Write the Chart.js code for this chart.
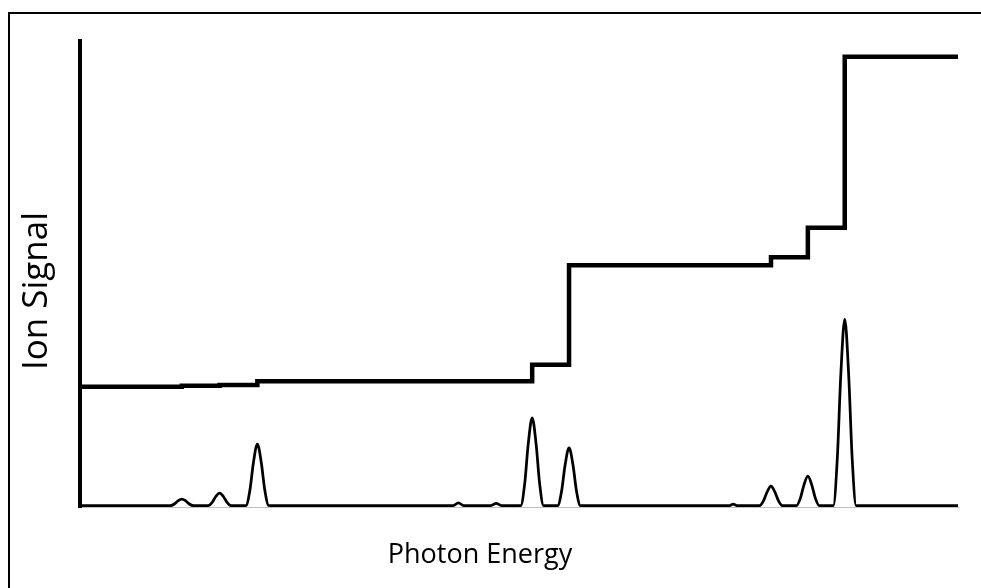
<!DOCTYPE html>
<html>
<head>
<meta charset="utf-8">
<script src="https://cdn.jsdelivr.net/npm/chart.js@4.4.1/dist/chart.umd.min.js"></script>
<style>
  html, body { margin: 0; padding: 0; background: #fff; }
  #wrap { position: relative; width: 981px; height: 588px; overflow: hidden; }
  #frame { position: absolute; left: 8px; top: 12px; width: 1200px; height: 800px;
           border-top: 2px solid #000; border-left: 2px solid #000; pointer-events: none; }
  canvas { position: absolute; left: 0; top: 0; }
</style>
</head>
<body>
<div id="wrap">
  <canvas id="c" width="981" height="588"></canvas>
  <div id="frame"></div>
</div>
<script>
// Axis titles
const xTitle = "Photon Energy";
const yTitle = "Ion Signal";

// Step curve (integrated ion signal): energy where each step occurs and level after it
const stepEnergy = [0, 11.6, 15.9, 20.2, 51.5, 55.7, 78.7, 82.9, 87.1, 100];
const stepLevel  = [25.8, 26.0, 26.2, 27.0, 30.5, 51.9, 53.6, 59.9, 96.6, 96.6];

// Peak spectrum (energy, signal)
const peakEnergy = [
  0,
  10.3, 10.75, 11.15, 11.6, 12.05, 12.45, 12.9,
  14.6, 15.05, 15.45, 15.9, 16.35, 16.75, 17.2,
  18.9, 19.35, 19.75, 20.2, 20.65, 21.05, 21.5,
  42.5, 43.1, 43.7,
  46.8, 47.4, 48.0,
  50.2, 50.65, 51.05, 51.5, 51.95, 52.35, 52.8,
  54.4, 54.85, 55.25, 55.7, 56.15, 56.55, 57.0,
  73.9, 74.4, 74.9,
  77.4, 77.85, 78.25, 78.7, 79.15, 79.55, 80.0,
  81.6, 82.05, 82.45, 82.9, 83.35, 83.75, 84.2,
  85.8, 86.25, 86.65, 87.1, 87.55, 87.95, 88.4,
  100
];
const peakSignal = [
  0.3,
  0.3, 0.65, 1.3, 1.7, 1.3, 0.65, 0.3,
  0.3, 1.0, 2.2, 3.0, 2.2, 1.0, 0.3,
  0.3, 3.6, 9.5, 13.5, 9.5, 3.6, 0.3,
  0.3, 0.9, 0.3,
  0.3, 0.8, 0.3,
  0.3, 5.0, 13.5, 19.1, 13.5, 5.0, 0.3,
  0.3, 3.4, 9.0, 12.7, 9.0, 3.4, 0.3,
  0.3, 0.6, 0.3,
  0.3, 1.35, 3.2, 4.5, 3.2, 1.35, 0.3,
  0.3, 1.9, 4.7, 6.6, 4.7, 1.9, 0.3,
  0.3, 10.3, 28.3, 40.3, 28.3, 10.3, 0.3,
  0.3
];

const stepData = stepEnergy.map((x, i) => ({ x, y: stepLevel[i] }));
const peakData = peakEnergy.map((x, i) => ({ x, y: peakSignal[i] }));

const titlePlugin = {
  id: 'freeTitles',
  afterDraw(chart) {
    const ctx = chart.ctx;
    ctx.save();
    ctx.fillStyle = '#000';
    ctx.textAlign = 'center';
    ctx.textBaseline = 'alphabetic';
    ctx.font = '27px "Open Sans"';
    ctx.fillText(xTitle, 480, 563);
    ctx.font = '35px "Open Sans"';
    ctx.translate(47, 291);
    ctx.rotate(-Math.PI / 2);
    ctx.fillText(yTitle, 0, 0);
    ctx.restore();
  }
};

new Chart(document.getElementById('c'), {
  type: 'line',
  data: {
    datasets: [
      {
        data: peakData,
        borderColor: '#000',
        borderWidth: 2.75,
        pointRadius: 0,
        cubicInterpolationMode: 'monotone',
        fill: false
      },
      {
        data: stepData,
        borderColor: '#000',
        borderWidth: 4.5,
        pointRadius: 0,
        stepped: 'before',
        borderJoinStyle: 'miter',
        borderCapStyle: 'butt',
        fill: false
      }
    ]
  },
  options: {
    responsive: false,
    animation: false,
    events: [],
    layout: { padding: { left: 80, right: 23, top: 41, bottom: 81 } },
    plugins: { legend: { display: false }, tooltip: { enabled: false } },
    scales: {
      x: {
        type: 'linear', min: 0, max: 100,
        grid: { display: false },
        ticks: { display: false },
        border: { display: true, color: '#bfbfbf', width: 1 },
        afterFit(s) { s.height = 0; }
      },
      y: {
        min: 0, max: 100,
        grid: { display: false },
        ticks: { display: false },
        border: { display: true, color: '#000', width: 4 },
        afterFit(s) { s.width = 0; }
      }
    }
  },
  plugins: [titlePlugin]
});
</script>
</body>
</html>
